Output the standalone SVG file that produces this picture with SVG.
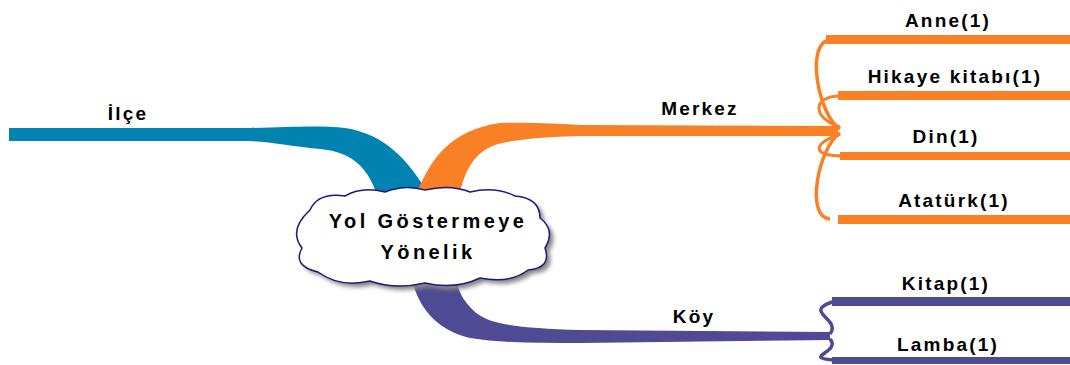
<svg xmlns="http://www.w3.org/2000/svg" width="1070" height="365" viewBox="0 0 1070 365">
<defs>
<style>
.t{font-family:"Liberation Sans",Arial,sans-serif;font-weight:bold;font-size:19px;fill:#000;text-anchor:middle;letter-spacing:2.2px}
.c{font-size:20px;letter-spacing:3.4px}
.o{stroke:#F98024;fill:none}
.p{stroke:#4F4A94;fill:none}
</style>
<filter id="sh" x="-10%" y="-10%" width="130%" height="130%"><feGaussianBlur stdDeviation="2"/></filter>
</defs>
<rect width="1070" height="365" fill="#fff"/>
<g id="connectors">
<path d="M 9,128 L 250,128 C 290,127 320,125 345,128 C 385,134 408,160 428,193 L 376,192 C 366,165 350,152 320,149 C 290,146 270,142 250,141 L 9,141 Z" fill="#0083B0"/>
<path d="M 417,193 C 430,160 450,130 500,123 C 530,122 560,124 583,125 L 838,126 L 838,136 L 583,136 C 540,137 510,140 495,145 C 475,152 465,170 460,193 Z" fill="#F98024"/>
<path d="M 412,280 C 418,305 435,330 470,338 C 500,343 540,343 580,343 L 830,340 L 830,332 L 580,330 C 520,328 490,325 475,312 C 462,300 458,290 456,278 Z" fill="#4F4A94"/>
<g class="o">
<path d="M 826,39.5 L 1070,39.5" stroke-width="9"/>
<path d="M 838,95.5 L 1070,95.5" stroke-width="9"/>
<path d="M 840,156 L 1070,156" stroke-width="8"/>
<path d="M 838,219.5 L 1070,219.5" stroke-width="9"/>
<path d="M 840,129 C 818,115 805,42 830,40" stroke-width="3.5"/>
<path d="M 840,127 C 812,118 812,96 840,96" stroke-width="3"/>
<path d="M 840,134 C 812,144 812,156 842,156" stroke-width="3"/>
<path d="M 840,133 C 818,148 805,218 830,219" stroke-width="3.5"/>
</g>
<g class="p">
<path d="M 832,301.5 L 1070,301.5" stroke-width="9"/>
<path d="M 832,360.5 L 1070,360.5" stroke-width="7"/>
<path d="M 830,334 C 842,318 800,312 835,301" stroke-width="3.5"/>
<path d="M 830,339 C 842,352 800,358 835,360" stroke-width="3.5"/>
</g>
</g>
<g id="center">
<path d="M 310,210 Q 318,192 345,196 Q 362,186 385,192 Q 405,184 425,190 Q 450,184 470,192 Q 495,186 515,196 Q 540,198 540,218 Q 556,230 545,248 Q 552,268 528,270 Q 510,284 480,278 Q 455,290 425,283 Q 395,290 370,281 Q 340,288 318,272 Q 292,266 302,248 Q 288,230 310,210 Z" fill="#888" transform="translate(4,4)" filter="url(#sh)"/>
<path d="M 310,210 Q 318,192 345,196 Q 362,186 385,192 Q 405,184 425,190 Q 450,184 470,192 Q 495,186 515,196 Q 540,198 540,218 Q 556,230 545,248 Q 552,268 528,270 Q 510,284 480,278 Q 455,290 425,283 Q 395,290 370,281 Q 340,288 318,272 Q 292,266 302,248 Q 288,230 310,210 Z" fill="#fff" stroke="#1B1B7A" stroke-width="1.5"/>
<text class="t c" x="428" y="228">Yol Göstermeye</text>
<text class="t c" x="428" y="259">Yönelik</text>
</g>
<g id="ilce"><text class="t" x="128" y="120">İlçe</text></g>
<g id="merkez"><text class="t" x="700" y="115">Merkez</text></g>
<g id="koy"><text class="t" x="694" y="323">Köy</text></g>
<g id="anne"><text class="t" x="948" y="27">Anne(1)</text></g>
<g id="hikaye"><text class="t" x="955" y="83">Hikaye kitabı(1)</text></g>
<g id="din"><text class="t" x="946" y="143">Din(1)</text></g>
<g id="ataturk"><text class="t" x="954" y="207">Atatürk(1)</text></g>
<g id="kitap"><text class="t" x="946" y="290">Kitap(1)</text></g>
<g id="lamba"><text class="t" x="948" y="351">Lamba(1)</text></g>
</svg>
